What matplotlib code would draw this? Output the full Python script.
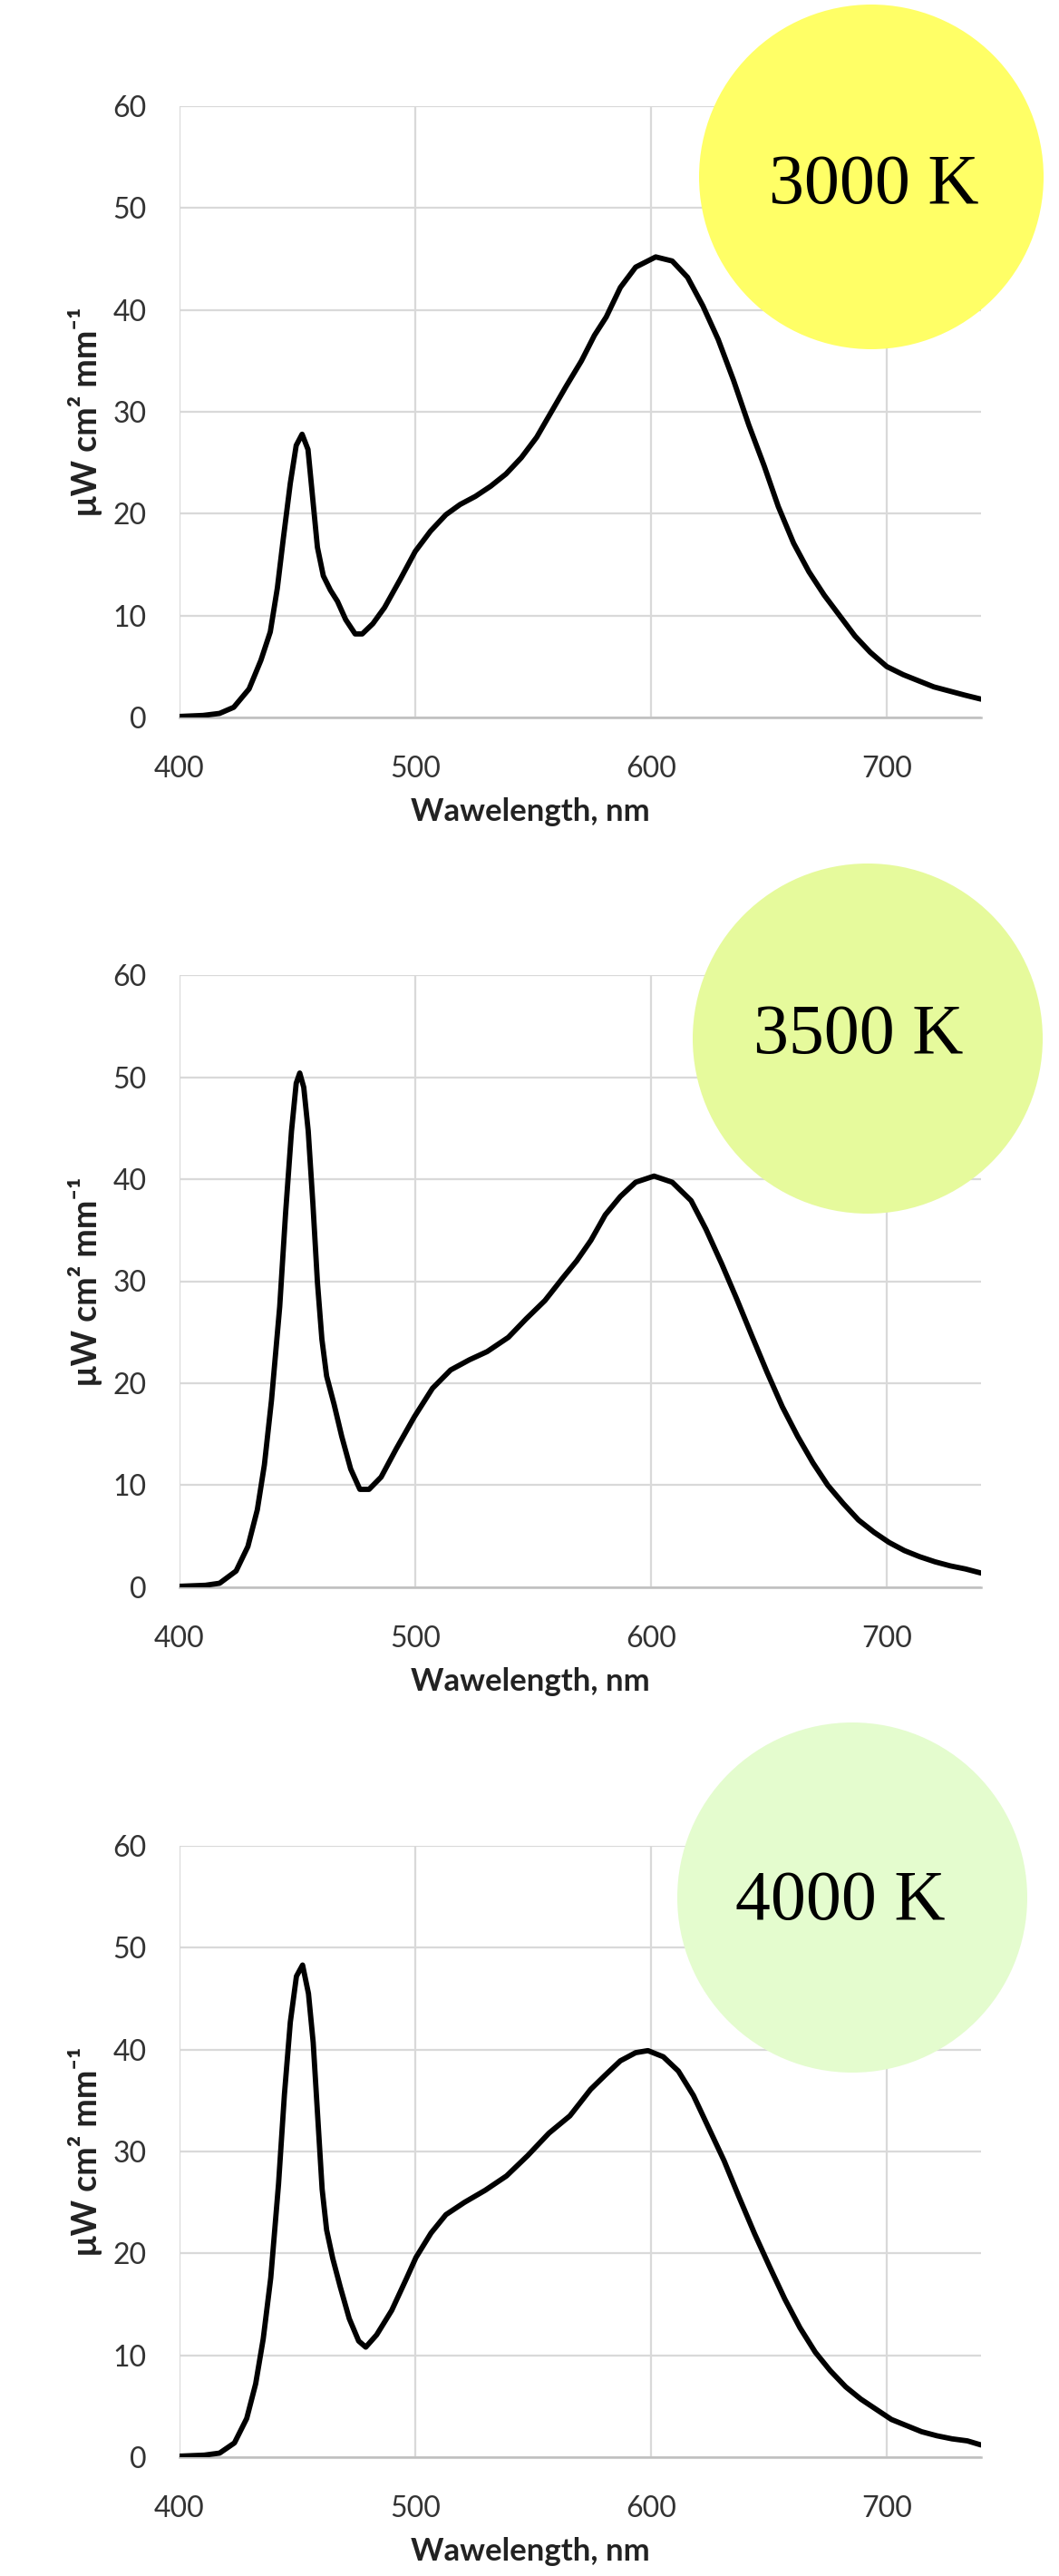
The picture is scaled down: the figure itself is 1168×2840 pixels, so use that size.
import matplotlib
matplotlib.use("Agg")
import matplotlib.pyplot as plt
from matplotlib.patches import Ellipse

# spectra (wavelength nm, uW cm2 mm-1)
wl_3000 = [400, 410, 417, 423, 429.5, 434.5, 438.5, 441.5, 444, 447, 449.5, 452, 454.5,
           456.5, 458.5, 461, 464, 467, 470.5, 474.5, 477.5, 482, 487, 493.5, 500, 506.5,
           513, 519, 525.5, 532, 538.5, 545, 551.5, 557.5, 564, 570.5, 576, 581, 587,
           593.5, 602, 609, 615.5, 622, 628.5, 635, 641.5, 648, 654, 660.5, 667, 673.5,
           680, 686.5, 693, 700, 707, 713.5, 720, 726.5, 733, 740]
sp_3000 = [0.1, 0.2, 0.4, 1.0, 2.8, 5.6, 8.4, 12.7, 17.5, 23.0, 26.7, 27.8, 26.3,
           21.5, 16.7, 13.9, 12.5, 11.4, 9.6, 8.2, 8.2, 9.2, 10.8, 13.5, 16.3, 18.3,
           19.9, 20.9, 21.7, 22.7, 23.9, 25.5, 27.5, 29.9, 32.5, 35.0, 37.5, 39.3, 42.2,
           44.2, 45.2, 44.8, 43.2, 40.4, 37.1, 33.1, 28.7, 24.7, 20.7, 17.1, 14.3, 12.0,
           10.0, 8.0, 6.4, 5.0, 4.2, 3.6, 3.0, 2.6, 2.2, 1.8]

wl_3500 = [400, 411, 417, 424, 429, 433, 436, 439, 442.5, 445, 447.5, 449.5, 451, 452.7,
           454.6, 456.6, 458.5, 460.4, 462.4, 465.6, 468.8, 472.6, 476.5, 480.4, 485.5,
           492, 499.6, 507.3, 515, 523, 530.5, 539.5, 547, 555, 562.5, 568.5, 574.5,
           580.6, 587, 593.5, 601.3, 609, 617, 623.3, 630, 636.3, 642.7, 649.2, 655.7,
           662.2, 668.7, 675, 681.6, 688, 694.6, 701, 707.5, 714, 720.5, 727, 733.4, 740]
sp_3500 = [0.1, 0.2, 0.4, 1.6, 4.0, 7.6, 12.0, 18.3, 27.5, 36.7, 44.7, 49.4, 50.4, 49.0,
           44.7, 37.5, 29.9, 24.3, 20.7, 17.9, 14.8, 11.6, 9.6, 9.6, 10.8,
           13.6, 16.7, 19.5, 21.3, 22.3, 23.1, 24.5, 26.3, 28.1, 30.3, 32.0, 34.0,
           36.5, 38.3, 39.7, 40.3, 39.7, 37.9, 35.1, 31.7, 28.3, 24.7, 21.1, 17.7,
           14.8, 12.2, 10.0, 8.2, 6.6, 5.4, 4.4, 3.6, 3.0, 2.5, 2.1, 1.8, 1.4]

wl_4000 = [400, 410.5, 417, 423.3, 428.5, 432.3, 435.5, 438.7, 442, 444.5, 447, 449.6,
           452.2, 454.7, 456.7, 458.6, 460.5, 462.4, 465, 468.2, 472, 476, 479, 483.6,
           490, 496.4, 500.3, 506.7, 513, 520.8, 529.7, 538.7, 547.7, 556.7, 565.6,
           574.4, 580.6, 587, 593.5, 598.7, 605.2, 611.6, 618, 624.5, 631, 637.4, 644,
           650.3, 656.8, 663.2, 669.7, 676, 682.6, 689, 695.5, 702, 708.4, 714.8, 721.3,
           727.7, 734.2, 740]
sp_4000 = [0.1, 0.2, 0.4, 1.4, 3.8, 7.2, 11.6, 17.6, 26.8, 35.6, 42.7, 47.2,
           48.3, 45.5, 40.7, 33.5, 26.3, 22.3, 19.5, 16.7, 13.6, 11.4, 10.8, 12.0,
           14.4, 17.6, 19.6, 22.0, 23.8, 25.0, 26.2, 27.6, 29.6, 31.8, 33.5,
           36.1, 37.5, 38.9, 39.7, 39.9, 39.3, 37.9, 35.5, 32.3, 29.1, 25.5, 21.9,
           18.7, 15.5, 12.7, 10.3, 8.5, 6.9, 5.7, 4.7, 3.7, 3.1, 2.5, 2.1,
           1.8, 1.6, 1.2]

labels = ["3000 K", "3500 K", "4000 K"]
circle_colors = ["#FFFF66", "#E6FA9C", "#E4FCCE"]

W, H = 1168, 2840
fig = plt.figure(figsize=(W / 100, H / 100), dpi=100)

tick_font = ["Lato", "DejaVu Sans"]
grid_col = "#D9D9D9"

# axes boxes in pixels: (top of 60, bottom at 0)
panel_px = [(117, 791), (1075, 1750), (2035, 2709)]
# circle centres / radii in pixels
circles_px = [(961, 195, 190), (957, 1145, 193), (940, 2092, 193)]
text_px = [(964, 205), (947, 1142), (927, 2097)]

series = [(wl_3000, sp_3000), (wl_3500, sp_3500), (wl_4000, sp_4000)]

for i, (wl, sp) in enumerate(series):
    top, bot = panel_px[i]
    ax = fig.add_axes([198 / W, 1 - bot / H, 884 / W, (bot - top) / H])
    ax.plot(wl, sp, color="black", lw=4.2, solid_joinstyle="round",
            solid_capstyle="round", zorder=3)
    ax.set_xlim(400, 740)
    ax.set_ylim(0, 60)
    ax.set_xticks([400, 500, 600, 700])
    ax.set_yticks(range(0, 61, 10))
    ax.grid(True, color=grid_col, lw=1.6)
    ax.set_axisbelow(True)
    for s in ["top", "right", "left"]:
        ax.spines[s].set_visible(False)
    ax.spines["bottom"].set_color("#BFBFBF")
    ax.spines["bottom"].set_linewidth(1.8)
    ax.tick_params(axis="both", length=0, labelsize=23, colors="#333333")
    ax.tick_params(axis="x", pad=30)
    ax.tick_params(axis="y", pad=26)
    for lab in ax.get_xticklabels() + ax.get_yticklabels():
        lab.set_family(tick_font)

    ax.set_xlabel("Wawelength, nm", fontsize=25, fontweight="bold",
                  family=tick_font, color="#222222", va="center")
    ax.xaxis.set_label_coords((585 - 198) / 884, -104 / (bot - top))
    ax.set_ylabel("μW cm² mm⁻¹", fontsize=27, fontweight="bold",
                  family=tick_font, color="#222222", va="center")
    ax.yaxis.set_label_coords((94 - 198) / 884, 0.5)

    cx, cy, r = circles_px[i]
    fig.patches.append(Ellipse((cx / W, 1 - cy / H), 2 * r / W, 2 * r / H,
                               transform=fig.transFigure, facecolor=circle_colors[i],
                               edgecolor="none", zorder=5))
    tx, ty = text_px[i]
    fig.text(tx / W, 1 - ty / H, labels[i], fontsize=56, family="Liberation Serif",
             ha="center", va="center", color="black", zorder=6)

fig.savefig("out.png", dpi=100, facecolor="white")
